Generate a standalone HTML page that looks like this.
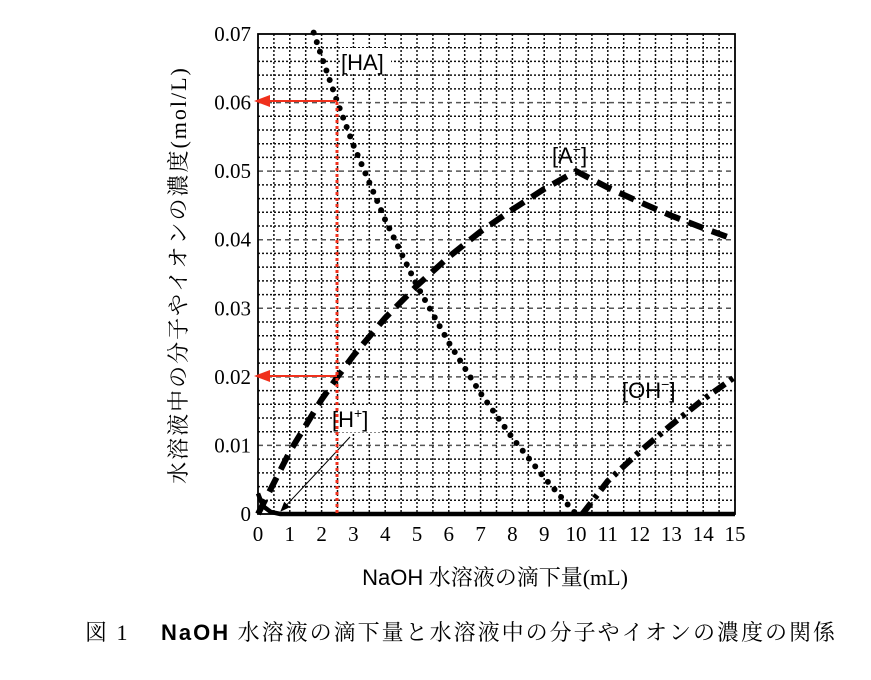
<!DOCTYPE html>
<html><head><meta charset="utf-8"><style>
body{margin:0;background:#fff;}
svg text{font-family:"Liberation Serif","Noto Serif CJK SC",serif;}
.sans{font-family:"Liberation Sans","Noto Sans CJK JP",sans-serif !important;}
</style></head><body>
<svg width="871" height="675" viewBox="0 0 871 675" xmlns="http://www.w3.org/2000/svg">
<defs>
<marker id="ah" markerWidth="10" markerHeight="8" refX="9" refY="4" orient="auto"><path d="M0,0 L10,4 L0,8 Z" fill="#000"/></marker>
<marker id="rh" markerWidth="8" markerHeight="6" refX="1" refY="3" orient="auto-start-reverse"><path d="M0,0 L8,3 L0,6 Z" fill="#f0301c"/></marker>
</defs>
<g id="grid"></g>
<g id="series"></g>
<rect x="258" y="34" width="477" height="480" fill="none" stroke="#000" stroke-width="1.8"/>
<g id="ticks"></g>
<rect x="341" y="48" width="50" height="26" fill="#fff"/>
<text x="341" y="70" font-size="22" class="sans">[HA]</text>
<text x="552" y="163" font-size="22" class="sans">[A<tspan font-size="14" dy="-9">−</tspan><tspan dy="9" font-size="22">]</tspan></text>
<text x="622" y="398" font-size="22" class="sans">[OH<tspan font-size="14" dy="-9">−</tspan><tspan dy="9" font-size="22">]</tspan></text>
<rect x="332" y="405" width="50" height="27" fill="#fff"/>
<text x="332" y="427" font-size="22" class="sans">[H<tspan font-size="14" dy="-9">+</tspan><tspan dy="9" font-size="22">]</tspan></text>
<line x1="350" y1="437" x2="281" y2="511" stroke="#000" stroke-width="1" marker-end="url(#ah)"/>
<line x1="337" y1="102" x2="337" y2="514" stroke="#f0301c" stroke-width="3" stroke-dasharray="3,3"/>
<line x1="337" y1="101" x2="268" y2="101" stroke="#f0301c" stroke-width="2" marker-end="url(#rh)"/>
<line x1="337" y1="376" x2="268" y2="376" stroke="#f0301c" stroke-width="2" marker-end="url(#rh)"/>
<text x="495" y="585" font-size="22" text-anchor="middle"><tspan class="sans">NaOH</tspan> 水溶液の滴下量(mL)</text>
<text transform="translate(186,275) rotate(-90)" font-size="22" letter-spacing="2" text-anchor="middle">水溶液中の分子やイオンの濃度(mol/L)</text>
<text x="85" y="640" font-size="22" letter-spacing="2">図 1　 <tspan class="sans" font-weight="bold">NaOH</tspan> 水溶液の滴下量と水溶液中の分子やイオンの濃度の関係</text>
<script>
const xTicks=[0,1,2,3,4,5,6,7,8,9,10,11,12,13,14,15];
const yTicks=[0,0.01,0.02,0.03,0.04,0.05,0.06,0.07];
const yTickLabels=["0","0.01","0.02","0.03","0.04","0.05","0.06","0.07"];
const haX=[1.75,2,2.5,3,4,5,6,7,8,9,10];
const haY=[0.0702,0.0667,0.06,0.0538,0.0429,0.0333,0.025,0.0176,0.0111,0.0053,0];
const aX=[0,1,2,2.5,3,4,5,6,7,8,9,10,11,12,13,14,15];
const aY=[0,0.0091,0.0167,0.02,0.0231,0.0286,0.0333,0.0375,0.0412,0.0444,0.0474,0.05,0.0476,0.0455,0.0435,0.0417,0.04];
const ohX=[10.2,11,12,13,14,15];
const ohY=[0,0.0048,0.0091,0.013,0.0167,0.02];
const hX=[0,0.1,0.2,0.4,0.7,15];
const hY=[0.003,0.0018,0.0010,0.0003,0,0];
const X=v=>258+v*(477/15), Y=v=>514-v*(480/0.07);
const NS="http://www.w3.org/2000/svg";
function mk(p,t,a){const e=document.createElementNS(NS,t);for(const k in a)e.setAttribute(k,a[k]);p.appendChild(e);return e;}
const g=document.getElementById('grid');
for(let i=1;i<30;i++){const l=mk(g,'line',{x1:X(i/2),x2:X(i/2),y1:34,y2:514,stroke:'#111','stroke-width':1.5,'stroke-dasharray':'2,2'});

}
for(let i=1;i<35;i++){const v=i*0.002;const major=i%5===0;const l=mk(g,'line',{x1:258,x2:735,y1:Y(v),y2:Y(v),stroke:major?'#555':'#111','stroke-width':1.5,'stroke-dasharray':major?'5,4':'2,2'});

}
const t=document.getElementById('ticks');
xTicks.forEach(v=>{const e=mk(t,'text',{x:X(v),y:541,'font-size':21,'text-anchor':'middle'});e.textContent=v;

});
yTicks.forEach((v,i)=>{const e=mk(t,'text',{x:251,y:Y(v)+7,'font-size':21,'text-anchor':'end'});e.textContent=yTickLabels[i];

});
const s=document.getElementById('series');
function pts(xs,ys){return xs.map((x,i)=>X(x)+','+Y(ys[i])).join(' ');}
let p;
p=mk(s,'polyline',{points:pts(hX,hY),fill:'none',stroke:'#000','stroke-width':4.5});


p=mk(s,'polyline',{points:pts(haX,haY),fill:'none',stroke:'#000','stroke-width':6,'stroke-linecap':'round','stroke-dasharray':'0,10'});


p=mk(s,'polyline',{points:pts(aX,aY),fill:'none',stroke:'#000','stroke-width':6,'stroke-dasharray':'16,9'});


p=mk(s,'polyline',{points:pts(ohX,ohY),fill:'none',stroke:'#000','stroke-width':6,'stroke-dasharray':'14,6,4,6'});


</script>
</svg>
</body></html>
